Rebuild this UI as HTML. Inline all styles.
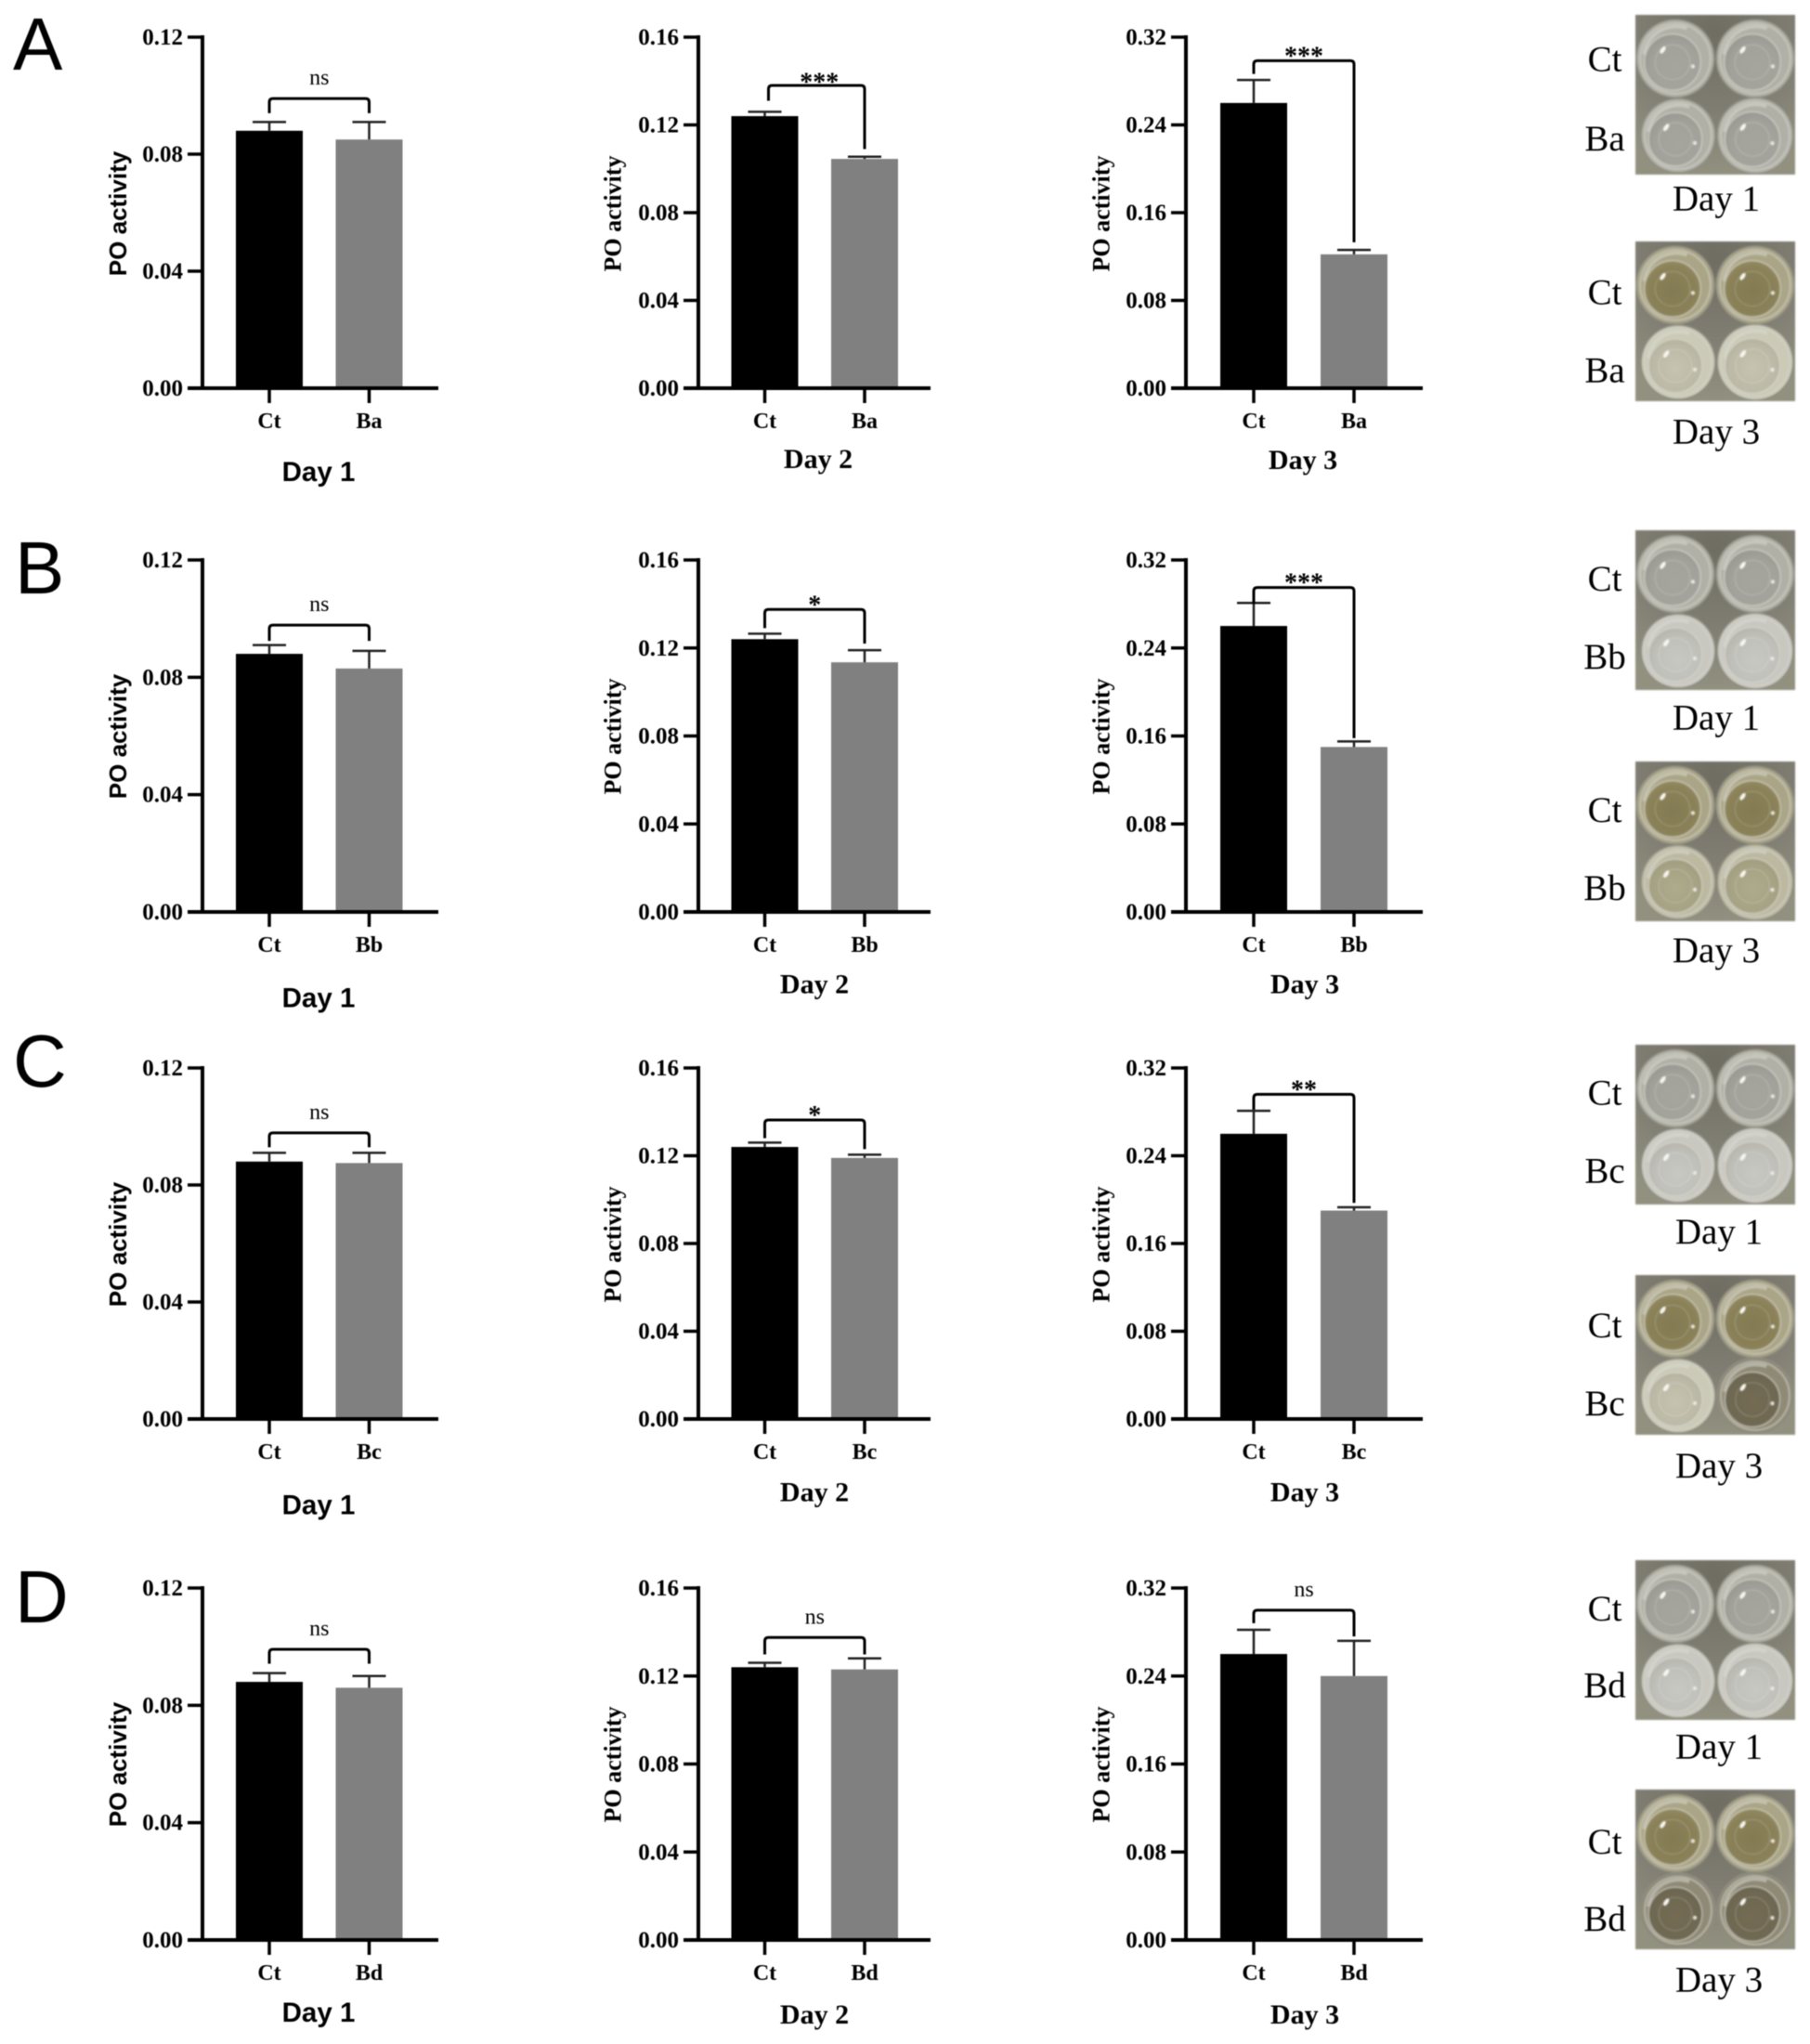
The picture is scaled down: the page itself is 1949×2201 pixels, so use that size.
<!DOCTYPE html>
<html lang="en">
<head>
<meta charset="utf-8">
<title>PO activity bar charts</title>
<style>
html,body{margin:0;padding:0;background:#fff;width:1949px;height:2201px;overflow:hidden}
svg{display:block;filter:blur(0.55px)}
</style>
</head>
<body>
<svg id="figure" xmlns="http://www.w3.org/2000/svg" width="1949" height="2201" viewBox="0 0 1949 2201">
<defs>
<radialGradient id="plate-bg" cx=".5" cy=".1" r=".9"><stop offset="0" stop-color="#6f6d62"/><stop offset=".55" stop-color="#7f7d72"/><stop offset="1" stop-color="#92907f"/></radialGradient>
<radialGradient id="well-clear" cx=".55" cy=".6" r=".6"><stop offset="0" stop-color="#a5a59d"/><stop offset=".7" stop-color="#a3a29a"/><stop offset="1" stop-color="#9a9991"/></radialGradient>
<radialGradient id="well-bright" cx=".55" cy=".6" r=".6"><stop offset="0" stop-color="#c8c8c2"/><stop offset=".7" stop-color="#c0c0ba"/><stop offset="1" stop-color="#b6b6ae"/></radialGradient>
<radialGradient id="well-olive" cx=".5" cy=".55" r=".6"><stop offset="0" stop-color="#827a52"/><stop offset=".7" stop-color="#8a8158"/><stop offset="1" stop-color="#958c62"/></radialGradient>
<radialGradient id="well-pale" cx=".5" cy=".55" r=".6"><stop offset="0" stop-color="#c6c4b0"/><stop offset=".7" stop-color="#bcbaa6"/><stop offset="1" stop-color="#b2b09b"/></radialGradient>
<radialGradient id="well-straw" cx=".5" cy=".55" r=".6"><stop offset="0" stop-color="#aeaa8c"/><stop offset=".7" stop-color="#a6a284"/><stop offset="1" stop-color="#9e9a7e"/></radialGradient>
<radialGradient id="well-dark" cx=".5" cy=".55" r=".6"><stop offset="0" stop-color="#736b52"/><stop offset=".7" stop-color="#6f6852"/><stop offset="1" stop-color="#69634e"/></radialGradient>
</defs>
</svg>
<script>
// ---------- chart data ----------
const rowLetters = ['A', 'B', 'C', 'D'];
const treatments = ['Ba', 'Bb', 'Bc', 'Bd'];
const controlLabel = 'Ct';
const dayTitles = ['Day 1', 'Day 2', 'Day 3'];
const plateDayTitles = ['Day 1', 'Day 3'];
const axisMaxima = [0.12, 0.16, 0.32];
const tickLabelsDay1 = ['0.00', '0.04', '0.08', '0.12'];
const tickLabelsDay2 = ['0.00', '0.04', '0.08', '0.12', '0.16'];
const tickLabelsDay3 = ['0.00', '0.08', '0.16', '0.24', '0.32'];
const tickValuesDay1 = [0, 0.04, 0.08, 0.12];
const tickValuesDay2 = [0, 0.04, 0.08, 0.12, 0.16];
const tickValuesDay3 = [0, 0.08, 0.16, 0.24, 0.32];
const yAxisTitle = 'PO activity';
// one row per panel (A-D), one column per day
const controlMeans = [[0.088, 0.124, 0.26], [0.088, 0.124, 0.26], [0.088, 0.124, 0.26], [0.088, 0.124, 0.26]];
const controlErrors = [[0.003, 0.002, 0.021], [0.003, 0.0025, 0.021], [0.003, 0.002, 0.021], [0.003, 0.002, 0.022]];
const treatedMeans = [[0.085, 0.1045, 0.122], [0.083, 0.1135, 0.15], [0.0875, 0.119, 0.19], [0.086, 0.123, 0.24]];
const treatedErrors = [[0.006, 0.001, 0.004], [0.006, 0.0055, 0.005], [0.0035, 0.0015, 0.003], [0.004, 0.005, 0.032]];
const significance = [['ns', '***', '***'], ['ns', '*', '***'], ['ns', '*', '**'], ['ns', 'ns', 'ns']];
const bracketLevels = [[0.099, 0.138, 0.2985], [0.0978, 0.1375, 0.295], [0.0978, 0.1363, 0.296], [0.0991, 0.1375, 0.2998]];
const bracketLeftEnds = [[0.094, 0.131, 0.2865], [0.0924, 0.129, 0.28], [0.0929, 0.128, 0.282], [0.0942, 0.1298, 0.288]];
const bracketRightEnds = [[0.094, 0.109, 0.133], [0.0924, 0.122, 0.158], [0.0929, 0.123, 0.197], [0.0942, 0.1298, 0.276]];
// ---------- well appearance per plate: [top row, bottom-left, bottom-right] ----------
const day1Wells = [['well-clear', 'well-clear', 'well-clear'], ['well-clear', 'well-bright', 'well-bright'], ['well-clear', 'well-bright', 'well-bright'], ['well-clear', 'well-bright', 'well-bright']];
const day3Wells = [['well-olive', 'well-pale', 'well-pale'], ['well-olive', 'well-straw', 'well-straw'], ['well-olive', 'well-pale', 'well-dark'], ['well-olive', 'well-dark', 'well-dark']];
const wellRingTones = { 'well-clear': '#b0b0a6', 'well-bright': '#c8c8c0', 'well-olive': '#aaa586', 'well-pale': '#cbcab6', 'well-straw': '#bcb9a0', 'well-dark': '#8f8a76' };

// ---------- layout ----------
const SVGNS = 'http://www.w3.org/2000/svg';
const SERIF = '"Liberation Serif", serif';
const SANS = '"Liberation Sans", sans-serif';
const figure = document.getElementById('figure');
const rowFrames = [{ top: 40, base: 418 }, { top: 603, base: 982 }, { top: 1150, base: 1528 }, { top: 1710, base: 2089 }];
const colFrames = [
  { axis: 218, a: 290, b: 397.5, end: 472, titleX: 127 },
  { axis: 752, a: 823.5, b: 931, end: 1002, titleX: 659.5 },
  { axis: 1277, a: 1350, b: 1458, end: 1532, titleX: 1185.5 }
];
const letterFrames = [{ x: 14, y: 75 }, { x: 16, y: 639 }, { x: 14, y: 1170 }, { x: 16, y: 1747 }];
const dayTitleFrames = [
  [{ x: 343, y: 518 }, { x: 881, y: 504 }, { x: 1403, y: 505 }],
  [{ x: 343, y: 1084.5 }, { x: 877, y: 1069.5 }, { x: 1405, y: 1069.5 }],
  [{ x: 343, y: 1630.5 }, { x: 877, y: 1616.5 }, { x: 1405, y: 1616.5 }],
  [{ x: 343, y: 2177 }, { x: 877, y: 2179 }, { x: 1405, y: 2179 }]
];
const plateTops = [[16, 260], [571, 820], [1125, 1373], [1680, 1927]];
const plateLabelRows = [
  [{ ct: 76.6, tr: 162, day: 226.4 }, { ct: 327.6, tr: 411.6, day: 477.4 }],
  [{ ct: 635.8, tr: 719.8, day: 785.6 }, { ct: 884.8, tr: 968.8, day: 1036 }],
  [{ ct: 1189.4, tr: 1273.4, day: 1339.2 }, { ct: 1439.8, tr: 1523.8, day: 1591 }],
  [{ ct: 1745, tr: 1827.6, day: 1893.4 }, { ct: 1996.2, tr: 2078.8, day: 2144.6 }]
];
const plateDayX = [1848, 1848, 1851, 1851];
const BAR_W = 72, CAP_W = 36, TICK = 16;

function mk(tag, parent, attrs) {
  const node = document.createElementNS(SVGNS, tag);
  for (const k in attrs) node.setAttribute(k, attrs[k]);
  parent.appendChild(node);
  return node;
}
function txt(parent, x, y, str, size, family, weight, anchor) {
  const node = mk('text', parent, { x: x, y: y, 'font-size': size, 'font-family': family, 'font-weight': weight, 'text-anchor': anchor, fill: '#000' });
  node.textContent = str;
  return node;
}
function yScale(value, max, frame) {
  return frame.base - (value / max) * (frame.base - frame.top);
}

function drawChart(r, c) {
  const frame = rowFrames[r], col = colFrames[c], max = axisMaxima[c];
  const y = function (v) { return yScale(v, max, frame); };
  const tickVals = [tickValuesDay1, tickValuesDay2, tickValuesDay3][c];
  const tickTxt = [tickLabelsDay1, tickLabelsDay2, tickLabelsDay3][c];

  const g = mk('g', figure, {});
  
  

  // bars
  const ctlBar = mk('rect', g, { x: col.a - BAR_W / 2, y: y(controlMeans[r][c]), width: BAR_W, height: frame.base - y(controlMeans[r][c]), fill: '#000' });
  
  
  const trtBar = mk('rect', g, { x: col.b - BAR_W / 2, y: y(treatedMeans[r][c]), width: BAR_W, height: frame.base - y(treatedMeans[r][c]), fill: '#808080' });
  
  

  // error bars
  const ctlTop = y(controlMeans[r][c] + controlErrors[r][c]);
  const ctlErr = mk('path', g, { d: 'M' + col.a + ' ' + y(controlMeans[r][c]) + 'V' + ctlTop + 'M' + (col.a - CAP_W / 2) + ' ' + ctlTop + 'H' + (col.a + CAP_W / 2), stroke: '#222', 'stroke-width': 2.5, fill: 'none' });
  
  
  const trtTop = y(treatedMeans[r][c] + treatedErrors[r][c]);
  const trtErr = mk('path', g, { d: 'M' + col.b + ' ' + y(treatedMeans[r][c]) + 'V' + trtTop + 'M' + (col.b - CAP_W / 2) + ' ' + trtTop + 'H' + (col.b + CAP_W / 2), stroke: '#222', 'stroke-width': 2.5, fill: 'none' });
  
  

  // axes
  const yAxis = mk('line', g, { x1: col.axis, x2: col.axis, y1: frame.top - 2, y2: frame.base + 2, stroke: '#000', 'stroke-width': 4 });
  
  
  const xAxis = mk('line', g, { x1: col.axis - TICK, x2: col.end, y1: frame.base, y2: frame.base, stroke: '#000', 'stroke-width': 4 });
  
  

  // y ticks
  tickVals.forEach(function (v, i) {
    const tick = mk('line', g, { x1: col.axis - TICK, x2: col.axis, y1: y(v), y2: y(v), stroke: '#000', 'stroke-width': 3.5 });
    
    
    const lab = txt(g, col.axis - TICK - 5, y(v) + 8, tickTxt[i], 25, SERIF, 'bold', 'end');
    
    
  });

  // x ticks and labels
  const tickA = mk('line', g, { x1: col.a, x2: col.a, y1: frame.base, y2: frame.base + TICK, stroke: '#000', 'stroke-width': 3.5 });
  
  
  const tickB = mk('line', g, { x1: col.b, x2: col.b, y1: frame.base, y2: frame.base + TICK, stroke: '#000', 'stroke-width': 3.5 });
  
  
  const labA = txt(g, col.a, frame.base + 43, controlLabel, 24, SERIF, 'bold', 'middle');
  
  
  const labB = txt(g, col.b, frame.base + 43, treatments[r], 24, SERIF, 'bold', 'middle');
  
  

  // y-axis title
  const ty = frame.top + 190;
  const yTitle = txt(g, col.titleX + 9, ty, yAxisTitle, 26, c === 0 ? SANS : SERIF, 'bold', 'middle');
  yTitle.setAttribute('transform', 'rotate(-90 ' + (col.titleX + 9) + ' ' + ty + ')');
  
  

  // x-axis day title
  const dt = dayTitleFrames[r][c];
  const dayTitle = txt(g, dt.x, dt.y, dayTitles[c], c === 0 ? 29.5 : 30, c === 0 ? SANS : SERIF, 'bold', 'middle');
  
  

  // significance bracket
  const by = y(bracketLevels[r][c]), ly = y(bracketLeftEnds[r][c]), ry = y(bracketRightEnds[r][c]);
  const rad = 4;
  const leftX = col.a + (r === 0 && c === 1 ? 4 : 0);
  const bracket = mk('path', g, {
    d: 'M' + leftX + ' ' + ly + 'V' + (by + rad) + 'Q' + leftX + ' ' + by + ' ' + (leftX + rad) + ' ' + by + 'H' + (col.b - rad) + 'Q' + col.b + ' ' + by + ' ' + col.b + ' ' + (by + rad) + 'V' + ry,
    stroke: '#000', 'stroke-width': 3, fill: 'none'
  });
  
  
  const mark = significance[r][c];
  const isNs = mark === 'ns';
  const starNudge = r === 0 && c === 1 ? 3 : 0;
  const sig = txt(g, (leftX + col.b) / 2 + starNudge, isNs ? by - 15 : by + 4 + starNudge / 2, mark, isNs ? 24 : 28, SERIF, isNs ? 'normal' : 'bold', 'middle');
  
  
}

function drawWell(parent, cx, cy, rad, fill) {
  const well = mk('g', parent, {});
  
  
  const inner = rad * 0.72;
  const ix = cx - 3, iy = cy + 4;
  mk('circle', well, { cx: cx, cy: cy, r: rad, fill: wellRingTones[fill], stroke: '#8e8d82', 'stroke-width': 1.5 });
  mk('circle', well, { cx: cx, cy: cy, r: rad * 0.9, fill: 'none', stroke: '#d2d2ca', 'stroke-width': 2.5, opacity: .5 });
  mk('path', well, { d: 'M' + (cx - rad * 0.8) + ' ' + (cy - rad * 0.1) + 'A' + rad * 0.82 + ' ' + rad * 0.82 + ' 0 0 1 ' + (cx + rad * 0.3) + ' ' + (cy - rad * 0.77), fill: 'none', stroke: '#dcdcd4', 'stroke-width': 4, opacity: .5 });
  mk('circle', well, { cx: ix, cy: iy, r: inner, fill: 'url(#' + fill + ')', stroke: '#d6d6ce', 'stroke-width': 2, 'stroke-opacity': .55 });
  mk('circle', well, { cx: ix, cy: iy, r: inner * 0.62, fill: 'none', stroke: '#ffffff', 'stroke-width': 1.5, 'stroke-opacity': .14 });
  mk('ellipse', well, { cx: cx - rad * 0.32, cy: cy - rad * 0.22, rx: 2.2, ry: 4.5, fill: '#f6f6f0', transform: 'rotate(35 ' + (cx - rad * 0.32) + ' ' + (cy - rad * 0.22) + ')' });
  mk('circle', well, { cx: cx + rad * 0.45, cy: cy + rad * 0.2, r: 2.2, fill: '#ecece6', opacity: .9 });
}

function drawPlate(r, p) {
  const top = plateTops[r][p], left = 1761, w = 172, h = 172;
  const wells = (p === 0 ? day1Wells : day3Wells)[r];
  const g = mk('g', figure, {});
  
  
  g.setAttribute('style', 'filter:blur(0.8px)');
  const bg = mk('rect', g, { x: left, y: top, width: w, height: h, fill: 'url(#plate-bg)' });
  
  
  drawWell(g, left + 43, top + 47, 42, wells[0]);
  drawWell(g, left + 129, top + 47, 42, wells[0]);
  drawWell(g, left + 46, top + 130, 40, wells[1]);
  drawWell(g, left + 129, top + 130, 41, wells[2]);

  const lab = plateLabelRows[r][p];
  const ct = txt(figure, 1728, lab.ct, controlLabel, 39, SERIF, 'normal', 'middle');
  
  
  const tr = txt(figure, 1728, lab.tr, treatments[r], 39, SERIF, 'normal', 'middle');
  
  
  const dy = txt(figure, plateDayX[r], lab.day, plateDayTitles[p], 39, SERIF, 'normal', 'middle');
  
  
}

rowLetters.forEach(function (letter, r) {
  const lf = letterFrames[r];
  const panelLetter = txt(figure, lf.x, lf.y, letter, 80, SANS, 'normal', 'start');
  
  
  dayTitles.forEach(function (_, c) { drawChart(r, c); });
  plateDayTitles.forEach(function (_, p) { drawPlate(r, p); });
});
</script>
</body>
</html>
